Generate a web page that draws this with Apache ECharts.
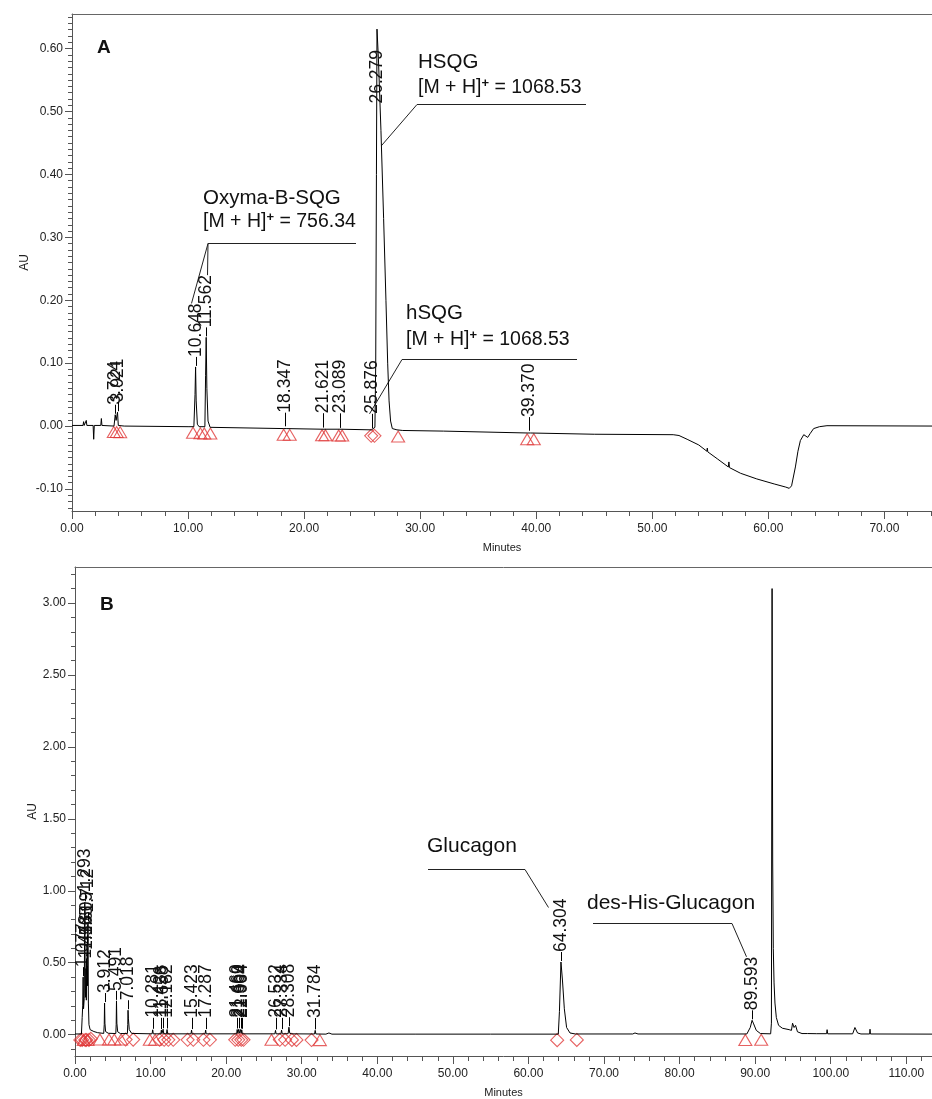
<!DOCTYPE html>
<html>
<head>
<meta charset="utf-8">
<script src="https://cdn.jsdelivr.net/npm/echarts@6/dist/echarts.min.js"></script>
<style>
  html, body { margin: 0; padding: 0; background: #fff; }
  #chart { width: 932px; height: 1099px; }
</style>
</head>
<body>
<div id="chart"></div>
<script>
// ---------- Panel A: crude HSQG chromatogram (minutes, AU) ----------
const traceA = [
  [0.00, 0.001], [0.95, 0.001], [1.00, 0.007], [1.05, 0.001], [1.18, 0.001], [1.23, 0.009], [1.28, 0.001],
  [1.82, 0.001], [1.87, -0.021], [1.92, 0.001], [2.48, 0.001], [2.53, 0.012], [2.58, 0.001],
  [3.62, 0.000], [3.724, 0.018], [3.80, 0.009], [3.921, 0.022], [3.99, 0.001], [4.50, 0.000],
  [10.00, -0.001], [10.50, -0.001], [10.60, 0.050], [10.648, 0.094], [10.70, 0.040], [10.80, 0.003], [10.95, -0.001],
  [11.45, -0.001], [11.51, 0.080], [11.562, 0.141], [11.62, 0.060], [11.72, 0.008], [11.90, -0.002],
  [18.25, -0.004], [18.347, -0.002], [18.45, -0.004],
  [21.55, -0.005], [21.621, -0.004], [21.70, -0.005],
  [23.00, -0.005], [23.089, -0.0045], [23.18, -0.005],
  [25.80, -0.006], [25.876, -0.005], [25.95, -0.005], [26.10, -0.002], [26.17, 0.100], [26.23, 0.400],
  [26.279, 0.631], [26.40, 0.585], [26.62, 0.470], [26.85, 0.330], [27.05, 0.200], [27.20, 0.100],
  [27.32, 0.040], [27.45, 0.008], [27.60, -0.004], [28.00, -0.006], [28.50, -0.007], [32.00, -0.008],
  [39.25, -0.011], [39.37, -0.009], [39.50, -0.011], [45.00, -0.013], [51.80, -0.0137],
  [52.30, -0.015], [53.00, -0.021], [54.00, -0.030], [54.70, -0.040], [54.74, -0.035], [54.78, -0.041],
  [55.60, -0.052], [56.55, -0.065], [56.60, -0.057], [56.65, -0.066], [57.60, -0.075], [59.00, -0.084],
  [60.50, -0.092], [61.50, -0.097], [61.80, -0.099], [62.00, -0.095], [62.33, -0.065], [62.55, -0.040],
  [62.76, -0.023], [63.05, -0.0137], [63.20, -0.015], [63.39, -0.018], [63.60, -0.012], [63.90, -0.004],
  [64.40, -0.001], [65.05, 0.0006], [74.40, 0.000]
];
const peakLabelsA = ['3.724', '3.921', '10.648', '11.562', '18.347', '21.621', '23.089', '25.876', '26.279', '39.370'];
const markerTriA = [3.60, 3.85, 4.15, 10.43, 11.06, 11.40, 11.92, 18.24, 18.76, 21.55, 21.84, 22.98, 23.28, 28.10, 39.22, 39.79];
const markerDiaA = [25.78, 26.06];
const xTicksA = [0, 10, 20, 30, 40, 50, 60, 70];
const yTicksA = [-0.10, 0.00, 0.10, 0.20, 0.30, 0.40, 0.50, 0.60];

// ---------- Panel B: purified glucagon chromatogram (minutes, AU) ----------
const traceB = [
  [0.00, 0.005], [0.85, 0.005], [0.95, 0.12], [1.02, 0.20], [1.077, 0.40], [1.13, 0.18], [1.22, 0.25],
  [1.293, 0.92], [1.36, 0.30], [1.40, 0.26], [1.448, 0.46], [1.50, 0.24], [1.565, 0.52], [1.585, 0.42],
  [1.609, 0.62], [1.66, 0.34], [1.712, 0.78], [1.77, 0.22], [1.85, 0.07], [2.00, 0.035], [2.50, 0.022],
  [3.00, 0.014], [3.80, 0.009], [3.87, 0.07], [3.912, 0.22], [3.96, 0.08], [4.05, 0.022], [4.40, 0.010],
  [5.40, 0.008], [5.45, 0.07], [5.491, 0.235], [5.54, 0.08], [5.65, 0.020], [6.00, 0.008],
  [6.93, 0.008], [6.98, 0.07], [7.018, 0.17], [7.07, 0.11], [7.18, 0.035], [7.50, 0.009],
  [10.20, 0.006], [10.281, 0.034], [10.36, 0.006], [11.35, 0.006], [11.426, 0.032], [11.50, 0.007],
  [11.58, 0.008], [11.658, 0.038], [11.74, 0.007], [12.10, 0.006], [12.182, 0.036], [12.26, 0.006],
  [15.35, 0.006], [15.423, 0.032], [15.50, 0.006], [17.21, 0.006], [17.287, 0.032], [17.36, 0.006],
  [21.39, 0.006], [21.460, 0.036], [21.55, 0.010], [21.669, 0.038], [21.76, 0.010], [21.904, 0.036],
  [21.98, 0.010], [22.064, 0.034], [22.15, 0.006], [26.45, 0.006], [26.532, 0.030], [26.61, 0.006],
  [27.25, 0.006], [27.334, 0.032], [27.42, 0.006], [28.20, 0.007], [28.308, 0.052], [28.42, 0.010],
  [28.70, 0.006], [31.70, 0.005], [31.784, 0.030], [31.87, 0.005], [33.20, 0.004], [33.60, 0.012],
  [34.00, 0.004], [45.00, 0.004], [55.00, 0.004], [63.95, 0.004], [64.10, 0.16], [64.304, 0.505],
  [64.50, 0.38], [64.75, 0.18], [65.05, 0.05], [65.50, 0.012], [66.20, 0.005], [73.80, 0.005],
  [74.10, 0.012], [74.50, 0.005], [88.90, 0.005], [89.35, 0.05], [89.593, 0.10], [89.80, 0.075],
  [90.15, 0.030], [90.70, 0.008], [92.05, 0.006], [92.15, 0.08], [92.24, 3.10], [92.32, 1.20],
  [92.40, 0.60], [92.50, 0.36], [92.62, 0.22], [92.80, 0.12], [93.10, 0.065], [93.60, 0.045],
  [94.50, 0.035], [94.80, 0.030], [94.95, 0.08], [95.15, 0.05], [95.35, 0.065], [95.60, 0.020],
  [96.20, 0.008], [96.95, 0.008], [97.00, 0.020], [97.05, 0.007], [98.15, 0.007], [98.20, 0.015],
  [98.25, 0.006], [99.45, 0.007], [99.52, 0.035], [99.60, 0.006], [102.90, 0.006], [103.20, 0.05],
  [103.55, 0.012], [104.00, 0.005], [105.15, 0.005], [105.20, 0.038], [105.25, 0.005], [113.90, 0.004]
];
const peakLabelsB = ['1.077', '1.293', '1.448', '1.565', '1.609', '1.712', '3.912', '5.491', '7.018',
  '10.281', '11.426', '11.658', '12.182', '15.423', '17.287', '21.460', '21.669', '21.904', '22.064',
  '26.532', '27.334', '28.308', '31.784', '64.304', '89.593'];
const markerTriB = [1.15, 1.65, 3.30, 4.50, 5.20, 6.10, 9.90, 10.60, 26.00, 32.40, 88.70, 90.80];
const markerDiaB = [0.70, 0.95, 1.35, 1.50, 1.85, 2.10, 6.70, 7.70, 11.20, 11.80, 12.35, 13.00, 14.90, 15.65,
  17.00, 17.85, 21.20, 21.60, 22.00, 22.30, 27.10, 27.80, 28.70, 29.30, 31.30, 63.80, 66.40];
const xTicksB = [0, 10, 20, 30, 40, 50, 60, 70, 80, 90, 100, 110];
const yTicksB = [0.00, 0.50, 1.00, 1.50, 2.00, 2.50, 3.00];

// ---------- styling / layout ----------
const FONT = '"Liberation Sans", Arial, Helvetica, sans-serif';
const PEAK_FONT = '17.5px ' + FONT;
const RED = '#e03a3a';
const INK = '#111';
const AXIS = '#555';
// plot areas run off the right edge of the page; the visible part ends at x = 932
const GRID_A = { left: 72, top: 14, width: 860, height: 497 };
const GRID_B = { left: 75, top: 567, width: 857, height: 492 };
const X_MAX_A = 74.1, X_MAX_B = 113.4;

const measureCtx = document.createElement('canvas').getContext('2d');
function textLen(s, font) { measureCtx.font = font; return measureCtx.measureText(s).width; }

function valueAt(trace, t) {
  if (t <= trace[0][0]) return trace[0][1];
  for (let i = 1; i < trace.length; i++) {
    if (t <= trace[i][0]) {
      const [t0, v0] = trace[i - 1], [t1, v1] = trace[i];
      return v0 + (v1 - v0) * (t - t0) / (t1 - t0);
    }
  }
  return trace[trace.length - 1][1];
}
// lowest signal around t: the local baseline under a peak
function localBase(trace, t, w) {
  let m = Math.min(valueAt(trace, t - w), valueAt(trace, t), valueAt(trace, t + w));
  for (const p of trace) if (Math.abs(p[0] - t) <= w) m = Math.min(m, p[1]);
  return m;
}

// retention-time label: rotated text sitting just above the apex, never below the baseline gap
function peakLabelGeom(trace, label, toPx, plotTop) {
  const t = parseFloat(label);
  const apex = toPx([t, valueAt(trace, t)]);
  const base = toPx([t, localBase(trace, t, 0.6)]);
  const len = textLen(label, PEAK_FONT);
  let bottom = Math.min(apex[1] - 10, base[1] - 16);
  if (bottom - len < plotTop + 30) bottom = plotTop + 36 + len;
  return { x: Math.round(apex[0]) + 0.5, apexY: apex[1], bottom: bottom, top: bottom - len };
}

function labelRenderer(trace, labels, plotTop) {
  return function (params, api) {
    const label = labels[params.dataIndex];
    const g = peakLabelGeom(trace, label, p => api.coord(p), plotTop);
    const children = [];
    if (g.bottom < g.apexY - 1) {
      children.push({ type: 'line', shape: { x1: g.x, y1: g.apexY - 1, x2: g.x, y2: g.bottom },
        style: { stroke: '#000', lineWidth: 1 } });
    }
    children.push({ type: 'text', x: g.x, y: g.bottom, rotation: Math.PI / 2,
      style: { text: label, font: PEAK_FONT, fill: INK, align: 'left', verticalAlign: 'middle',
        textAlign: 'left', textVerticalAlign: 'middle' } });
    return { type: 'group', children: children };
  };
}

function markerData(trace, times) { return times.map(t => [t, localBase(trace, t, 1.0)]); }

function xAxes(gridIndex, max, majors, nameGap) {
  const minors = [];
  for (let v = 0; v <= max; v += 2) minors.push(v);
  return [
    { type: 'value', gridIndex, min: 0, max, position: 'bottom',
      axisLine: { show: true, onZero: false, lineStyle: { color: AXIS, width: 1 } },
      axisTick: { show: true, customValues: majors, length: 8, lineStyle: { color: AXIS } },
      axisLabel: { show: true, customValues: majors, margin: 12, formatter: v => v.toFixed(2),
        color: '#222', fontSize: 12, fontFamily: FONT },
      splitLine: { show: false },
      name: 'Minutes', nameLocation: 'middle', nameGap, nameMoveOverlap: false,
      nameTextStyle: { fontSize: 11, color: '#222', fontFamily: FONT } },
    { type: 'value', gridIndex, min: 0, max, position: 'bottom',
      axisLine: { show: false, onZero: false },
      axisTick: { show: true, customValues: minors, length: 5, lineStyle: { color: AXIS } },
      axisLabel: { show: false }, splitLine: { show: false } },
    // top frame edge
    { type: 'value', gridIndex, min: 0, max, position: 'top',
      axisLine: { show: true, onZero: false, lineStyle: { color: '#666', width: 1 } },
      axisTick: { show: false }, axisLabel: { show: false }, splitLine: { show: false } }
  ];
}
function yAxes(gridIndex, min, max, majors, minorStep, nameGap) {
  const minors = [];
  const k = Math.round(1 / minorStep);
  for (let i = Math.ceil(min * k); i <= Math.floor(max * k); i++) minors.push(i / k);
  return [
    { type: 'value', gridIndex, min, max, position: 'left',
      axisLine: { show: true, onZero: false, lineStyle: { color: AXIS, width: 1 } },
      axisTick: { show: true, customValues: majors, length: 7, lineStyle: { color: AXIS } },
      axisLabel: { show: true, customValues: majors, margin: 9, formatter: v => v.toFixed(2),
        color: '#222', fontSize: 12, fontFamily: FONT },
      splitLine: { show: false },
      name: 'AU', nameLocation: 'middle', nameGap, nameRotate: 90, nameMoveOverlap: false,
      nameTextStyle: { fontSize: 12, color: '#222', fontFamily: FONT } },
    { type: 'value', gridIndex, min, max, position: 'left',
      axisLine: { show: false, onZero: false },
      axisTick: { show: true, customValues: minors, length: 4, lineStyle: { color: AXIS } },
      axisLabel: { show: false }, splitLine: { show: false } }
  ];
}

function panelSeries(xi, yi, trace, labels, tri, dia, plotTop) {
  const markerStyle = { color: 'transparent', borderColor: RED, borderWidth: 1.1 };
  return [
    { type: 'scatter', xAxisIndex: xi, yAxisIndex: yi, data: markerData(trace, tri), symbol: 'triangle',
      symbolSize: [13, 11], symbolOffset: [0, 6], itemStyle: markerStyle, z: 2, silent: true },
    { type: 'scatter', xAxisIndex: xi, yAxisIndex: yi, data: markerData(trace, dia), symbol: 'diamond',
      symbolSize: [13, 13], symbolOffset: [0, 6], itemStyle: markerStyle, z: 2, silent: true },
    { type: 'line', xAxisIndex: xi, yAxisIndex: yi, data: trace, symbol: 'none', showSymbol: false,
      lineStyle: { color: '#000', width: 1 }, z: 3, silent: true },
    { type: 'custom', xAxisIndex: xi, yAxisIndex: yi, z: 4, silent: true,
      data: labels.map(s => [parseFloat(s), valueAt(trace, parseFloat(s))]),
      encode: { x: 0, y: 1 }, renderItem: labelRenderer(trace, labels, plotTop) }
  ];
}

const chart = echarts.init(document.getElementById('chart'), null, { renderer: 'canvas' });
chart.setOption({
  animation: false,
  backgroundColor: '#fff',
  grid: [Object.assign({ show: false }, GRID_A), Object.assign({ show: false }, GRID_B)],
  xAxis: [...xAxes(0, X_MAX_A, xTicksA, 31), ...xAxes(1, X_MAX_B, xTicksB, 31)],
  yAxis: [...yAxes(0, -0.135, 0.655, yTicksA, 0.01, 41), ...yAxes(1, -0.148, 3.25, yTicksB, 0.1, 36)],
  series: [
    ...panelSeries(0, 0, traceA, peakLabelsA, markerTriA, markerDiaA, GRID_A.top),
    ...panelSeries(3, 2, traceB, peakLabelsB, markerTriB, markerDiaB, GRID_B.top)
  ]
});

// ---------- compound call-outs with leader lines ----------
const toPxA = p => chart.convertToPixel({ xAxisIndex: 0, yAxisIndex: 0 }, p);
const toPxB = p => chart.convertToPixel({ xAxisIndex: 3, yAxisIndex: 2 }, p);
const labA = s => peakLabelGeom(traceA, s, toPxA, GRID_A.top);
const labB = s => peakLabelGeom(traceB, s, toPxB, GRID_B.top);

const NAME_FONT_A = '20.5px ' + FONT;
const ION_FONT_A = '19.5px ' + FONT;
const NAME_FONT_B = '21px ' + FONT;
const SUP = { sup: { font: 'bold 13px ' + FONT, fill: INK, verticalAlign: 'top', lineHeight: 22 } };

function txt(x, y, text, font, rich) {
  const style = { text, font, fill: INK, align: 'left', verticalAlign: 'middle',
    textAlign: 'left', textVerticalAlign: 'middle' };
  if (rich) { style.rich = rich; style.lineHeight = 22; }
  return { type: 'text', x, y, silent: true, style };
}
function poly(points) {
  return { type: 'polyline', silent: true, shape: { points },
    style: { stroke: '#222', lineWidth: 1, fill: null } };
}

const g10648 = labA('10.648'), g11562 = labA('11.562'), g25876 = labA('25.876');
const hsqgFlank = toPxA([26.66, valueAt(traceA, 26.66)]);
const g64304 = labB('64.304'), g89593 = labB('89.593');

chart.setOption({
  graphic: [
    { type: 'text', x: 97, y: 48, silent: true,
      style: { text: 'A', font: 'bold 19px ' + FONT, fill: INK, align: 'left', verticalAlign: 'middle',
        textAlign: 'left', textVerticalAlign: 'middle' } },
    { type: 'text', x: 100, y: 605, silent: true,
      style: { text: 'B', font: 'bold 19px ' + FONT, fill: INK, align: 'left', verticalAlign: 'middle',
        textAlign: 'left', textVerticalAlign: 'middle' } },

    txt(203, 198, 'Oxyma-B-SQG', NAME_FONT_A),
    txt(203, 222, '[M + H]{sup|+} = 756.34', ION_FONT_A, SUP),
    poly([[356, 243.5], [208, 243.5], [g10648.x - 5, g10648.top]]),
    poly([[208, 243.5], [g11562.x + 1, g11562.top]]),

    txt(418, 62, 'HSQG', NAME_FONT_A),
    txt(418, 88, '[M + H]{sup|+} = 1068.53', ION_FONT_A, SUP),
    poly([[586, 104.5], [417, 104.5], hsqgFlank]),

    txt(406, 313, 'hSQG', NAME_FONT_A),
    txt(406, 340, '[M + H]{sup|+} = 1068.53', ION_FONT_A, SUP),
    poly([[577, 359.5], [402, 359.5], [g25876.x - 3, g25876.bottom]]),

    txt(427, 846, 'Glucagon', NAME_FONT_B),
    poly([[428, 869.5], [525, 869.5], [g64304.x - 13, g64304.top + 9]]),

    txt(587, 903, 'des-His-Glucagon', NAME_FONT_B),
    poly([[593, 923.5], [732, 923.5], [g89593.x - 6, g89593.top]])
  ]
});
</script>
</body>
</html>
